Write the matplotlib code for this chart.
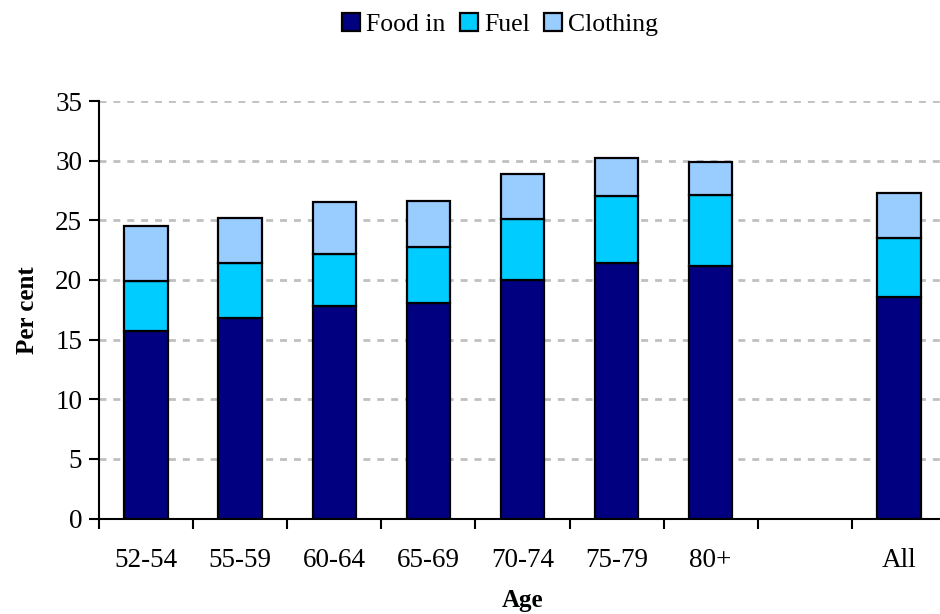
import matplotlib
matplotlib.use("Agg")
import matplotlib.pyplot as plt
import numpy as np

# spending shares by age band (per cent); blank slot before "All"
ages = ["52-54", "55-59", "60-64", "65-69", "70-74", "75-79", "80+", "", "All"]
food_in = [15.7, 16.8, 17.8, 18.1, 20.0, 21.4, 21.15, 0.0, 18.6]
fuel = [4.2, 4.6, 4.4, 4.7, 5.1, 5.6, 6.0, 0.0, 4.9]
clothing = [4.65, 3.8, 4.3, 3.8, 3.8, 3.25, 2.75, 0.0, 3.8]

series = [("Food in", food_in, "#000080"),
          ("Fuel", fuel, "#00CCFF"),
          ("Clothing", clothing, "#99CCFF")]

plt.rcParams["font.family"] = ["Liberation Serif", "DejaVu Serif"]

fig = plt.figure(figsize=(9.4, 6.14), dpi=100)
ax = fig.add_axes([0.1053, 0.1555, 0.901, 0.68])

x = np.arange(len(ages))
bottom = np.zeros(len(ages))
handles = []
for label, vals, colour in series:
    vals = np.array(vals)
    mask = vals > 0
    bars = ax.bar(x[mask], vals[mask], width=0.46, bottom=bottom[mask],
                  color=colour, edgecolor="black", linewidth=1.6, zorder=3,
                  label=label)
    handles.append(bars)
    bottom += vals

ax.set_xlim(-0.5, len(ages) - 0.5)
ax.set_ylim(0, 35)
ax.set_yticks(np.arange(0, 36, 5))
ax.yaxis.grid(True, color="#c0c0c0", linestyle=(0, (2.5, 2.5)), linewidth=2,
              zorder=0)
ax.set_axisbelow(True)

# category labels centred, ticks on the boundaries between categories
ax.set_xticks(x)
ax.set_xticklabels(ages)
ax.set_xticks(np.arange(-0.5, len(ages)), minor=True)
ax.tick_params(axis="x", which="major", length=0, pad=21, labelsize=19.5)
ax.tick_params(axis="x", which="minor", length=7, width=1.5, direction="out")
ax.tick_params(axis="y", length=7, width=1.5, direction="out", labelsize=19.5,
               pad=5)

for side in ("top", "right"):
    ax.spines[side].set_visible(False)
for side in ("left", "bottom"):
    ax.spines[side].set_linewidth(1.5)

ax.set_ylabel("Per cent", fontsize=18, fontweight="bold", labelpad=12)
ax.set_xlabel("Age", fontsize=18, fontweight="bold", labelpad=12)

fig.legend(handles=handles, loc="center", bbox_to_anchor=(0.532, 0.96),
           ncol=3, frameon=False, fontsize=18.5, handlelength=0.7,
           handleheight=0.7, handletextpad=0.25, columnspacing=0.55)

fig.savefig("out.png", dpi=100)
